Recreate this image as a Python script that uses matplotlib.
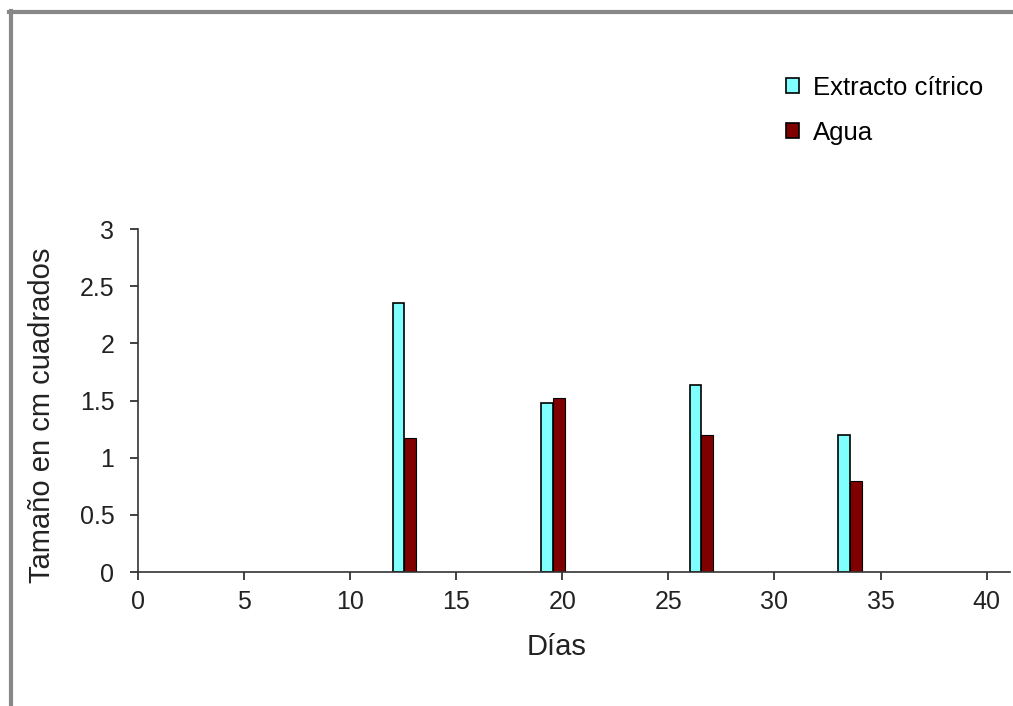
import matplotlib.pyplot as plt
from matplotlib.lines import Line2D

plt.rcParams['font.family'] = ['Liberation Sans', 'DejaVu Sans']

dias = [12, 19, 26, 33]
extracto = [2.35, 1.48, 1.64, 1.20]
agua = [1.17, 1.52, 1.20, 0.80]
x_ticks = [0, 5, 10, 15, 20, 25, 30, 35, 40]
y_ticks = [0, 0.5, 1, 1.5, 2, 2.5, 3]
y_tick_labels = ['0', '0.5', '1', '1.5', '2', '2.5', '3']

w = 0.56
fig = plt.figure(figsize=(10.13, 7.06), dpi=100)
ax = fig.add_axes([0.1362, 0.1898, 0.8608, 0.4858])

ax.bar(dias, extracto, width=w, align='edge', color='#80ffff',
       edgecolor='black', linewidth=1.2, label='Extracto cítrico')
ax.bar([d + w for d in dias], agua, width=w, align='edge', color='#800000',
       edgecolor='black', linewidth=0.8, label='Agua')

ax.set_xlim(0, 41.1)
ax.set_ylim(0, 3)
ax.set_xticks(x_ticks)
ax.set_yticks(y_ticks)
ax.set_yticklabels(y_tick_labels)
ax.tick_params(labelsize=18, length=6, width=1.2, colors='#222222')
ax.tick_params(axis='x', pad=7)
ax.tick_params(axis='y', pad=11)
ax.spines['top'].set_visible(False)
ax.spines['right'].set_visible(False)
for s in ['left', 'bottom']:
    ax.spines[s].set_linewidth(1.2)
    ax.spines[s].set_color('#333333')
ax.set_xlabel('Días', fontsize=21, color='#222222')
ax.set_ylabel('Tamaño en cm cuadrados', fontsize=21, color='#222222')
ax.xaxis.set_label_coords(0.48, -0.178)
ax.yaxis.set_label_coords(-0.094, 0.458)

leg = ax.legend(loc='upper left', bbox_to_anchor=(0.776, 0.893),
                bbox_transform=fig.transFigure, frameon=False, fontsize=18.5,
                handlelength=0.5, handleheight=0.5, handletextpad=0.55,
                labelspacing=0.82, borderaxespad=0, borderpad=0)
for h in leg.legend_handles:
    h.set_linewidth(1.2)

# outer gray frame (top and left edges)
fig.add_artist(Line2D([0.009, 1.0], [0.983, 0.983], transform=fig.transFigure,
                      color='#888888', linewidth=3))
fig.add_artist(Line2D([0.0105, 0.0105], [0.0, 0.985], transform=fig.transFigure,
                      color='#888888', linewidth=3))

fig.savefig('out.png', dpi=100)
